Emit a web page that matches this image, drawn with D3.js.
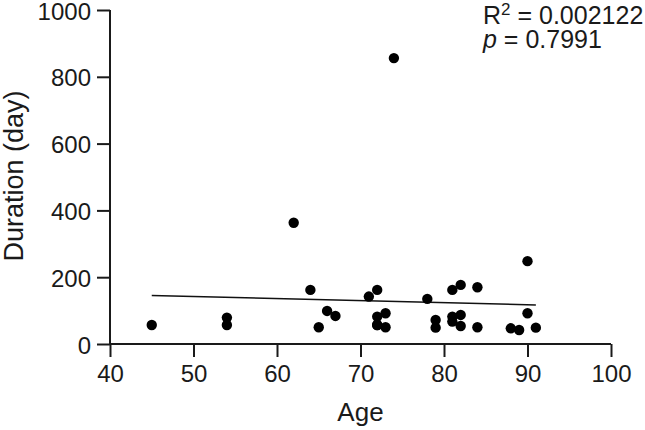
<!DOCTYPE html>
<html>
<head>
<meta charset="utf-8">
<script src="https://cdn.jsdelivr.net/npm/d3@7"></script>
<style>
  body { margin: 0; background: #fff; }
  text { font-family: "Liberation Sans", Arial, sans-serif; }
</style>
</head>
<body>
<div class="svg-container"></div>
<script>
// values
var ages = [45, 54, 54, 62, 64, 65, 66, 67, 71, 72, 72, 72, 72, 73, 73, 74,
            78, 79, 79, 81, 81, 81, 82, 82, 82, 84, 84, 88, 89, 90, 90, 91];
var durations = [57, 79, 57, 363, 162, 50, 99, 84, 142, 162, 82, 57, 57, 92, 50, 856,
                 135, 72, 49, 162, 82, 67, 177, 87, 54, 170, 50, 47, 42, 248, 92, 49];
var fitAges = [45, 91];
var fitDurations = [145, 117];
var xTicks = [40, 50, 60, 70, 80, 90, 100];
var yTicks = [0, 200, 400, 600, 800, 1000];

var margin = {top: 10, right: 34, bottom: 86, left: 110},
    width = 645 - margin.left - margin.right,
    height = 430 - margin.top - margin.bottom;

var data = [];
for (let i = 0; i < ages.length; i++) {
    data.push({age: ages[i], duration: durations[i]});
}
var fit = [];
for (let i = 0; i < fitAges.length; i++) {
    fit.push({age: fitAges[i], duration: fitDurations[i]});
}

var svg = d3.select(".svg-container").append("svg")
    .attr("width", 645)
    .attr("height", 430)
    .append("g")
    .attr("transform", "translate(" + margin.left + "," + margin.top + ")");

var xScale = d3.scaleLinear().domain([40, 100]).range([0, width]);
var yScale = d3.scaleLinear().domain([0, 1000]).range([height, 0]);

var xaxis = d3.axisBottom(xScale).tickValues(xTicks).tickFormat(d3.format("d"))
    .tickSize(13).tickPadding(8);
var yaxis = d3.axisLeft(yScale).tickValues(yTicks).tickFormat(d3.format("d"))
    .tickSize(13).tickPadding(6);

var gx = svg.append("g")
    .attr("transform", "translate(0," + height + ")")
    .call(xaxis);
var gy = svg.append("g").call(yaxis);

[gx, gy].forEach(function(g) {
    g.select(".domain").attr("stroke", "#1a1a1a").attr("stroke-width", 2);
    g.selectAll(".tick line").attr("stroke", "#1a1a1a").attr("stroke-width", 2);
    g.selectAll(".tick text")
        .attr("fill", "#1a1a1a")
        .style("font-size", "24px")
        .style("font-family", "Liberation Sans, Arial, sans-serif");
});
gy.selectAll(".tick text").attr("dy", "0.38em");
// keep the domain paths flat (no outer ticks)
gx.select(".domain").attr("d", "M0,0H" + width);
gy.select(".domain").attr("d", "M0," + height + "V0");

// axis titles
svg.append("text")
    .attr("x", width / 2)
    .attr("y", height + 77)
    .attr("text-anchor", "middle")
    .style("font-size", "26px")
    .attr("fill", "#1a1a1a")
    .text("Age");

svg.append("text")
    .attr("transform", "rotate(-90)")
    .attr("x", -166)
    .attr("y", -87.5)
    .attr("text-anchor", "middle")
    .style("font-size", "27px")
    .attr("fill", "#1a1a1a")
    .text("Duration (day)");

// regression line
var line = d3.line()
    .x(function(d) { return xScale(d.age); })
    .y(function(d) { return yScale(d.duration); });

svg.append("path")
    .datum(fit)
    .attr("fill", "none")
    .attr("stroke", "#111")
    .attr("stroke-width", 1.5)
    .attr("d", line);

// points
svg.append("g")
    .selectAll("circle")
    .data(data)
    .enter()
    .append("circle")
    .attr("cx", function(d) { return xScale(d.age); })
    .attr("cy", function(d) { return yScale(d.duration); })
    .attr("r", 5.2)
    .attr("fill", "#000");

// stats
var stats = svg.append("text")
    .attr("x", 373)
    .attr("y", 14)
    .style("font-size", "25px")
    .attr("fill", "#1a1a1a");
stats.append("tspan").text("R");
stats.append("tspan").attr("dy", -9).style("font-size", "17px").text("2");
stats.append("tspan").attr("dy", 9).text(" = 0.002122");

var pText = svg.append("text")
    .attr("x", 373)
    .attr("y", 37.5)
    .style("font-size", "25px")
    .attr("fill", "#1a1a1a");
pText.append("tspan").style("font-style", "italic").text("p");
pText.append("tspan").text(" = 0.7991");
</script>
</body>
</html>
